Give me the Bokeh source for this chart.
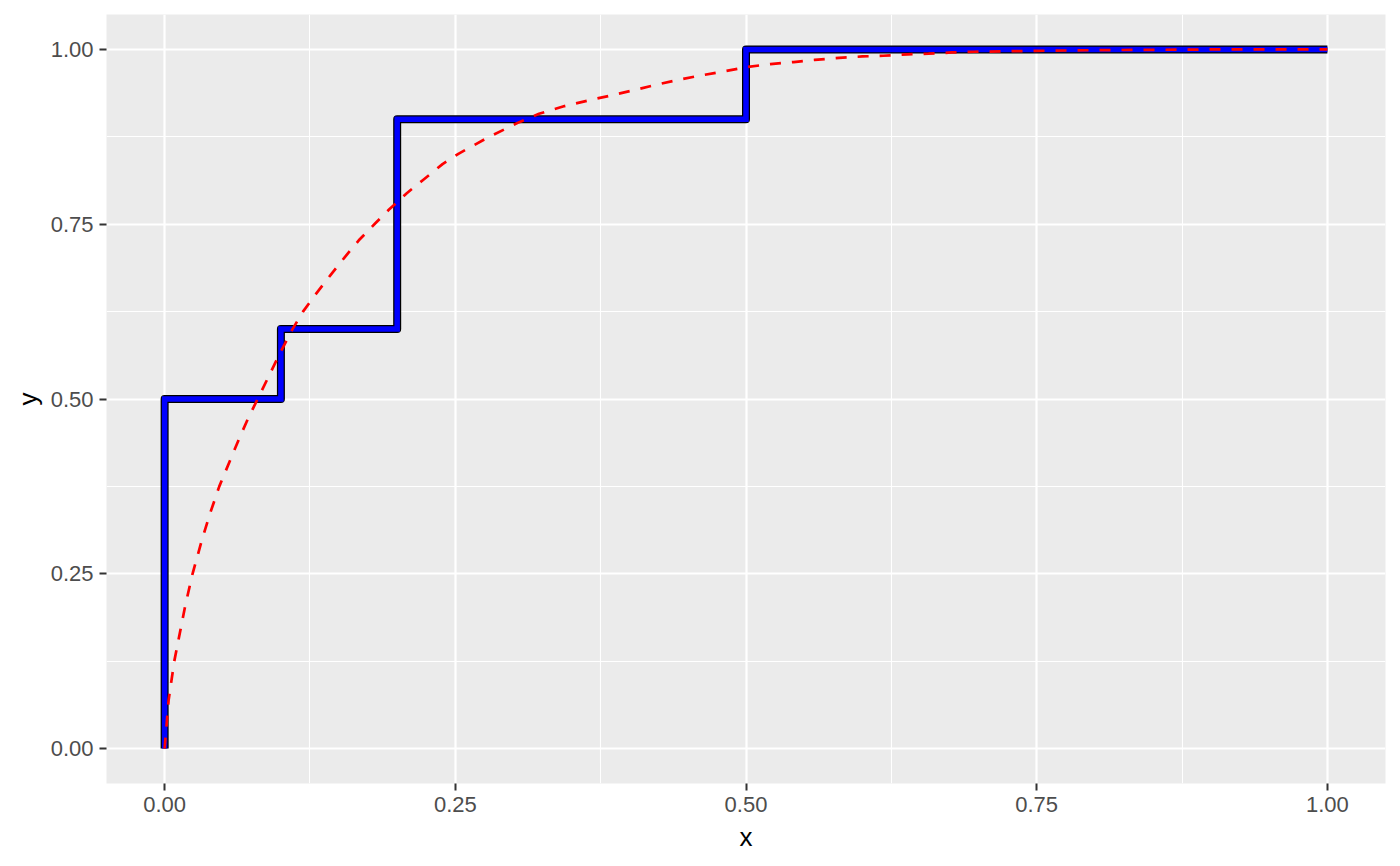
"""
step function (empirical cdf) against a smooth dashed curve, ggplot look
"""
from bokeh.plotting import figure
from bokeh.models import FixedTicker, Range1d, NumeralTickFormatter
from bokeh.embed import file_html
from bokeh.resources import INLINE

# empirical step function
step_x = [0.0, 0.0, 0.1, 0.2, 0.5, 1.0]
step_y = [0.0, 0.5, 0.6, 0.9, 1.0, 1.0]

# red dashed curve
curve_x = [0.0, 0.0034, 0.0083, 0.0178, 0.024, 0.032, 0.039, 0.047, 0.056,
           0.064, 0.072, 0.080, 0.090, 0.099, 0.110, 0.119, 0.130, 0.143,
           0.155, 0.167, 0.181, 0.193, 0.208, 0.222, 0.239, 0.253, 0.279,
           0.305, 0.322, 0.344, 0.367, 0.386, 0.404, 0.424, 0.443, 0.462,
           0.482, 0.501, 0.521, 0.541, 0.559, 0.580, 0.600, 0.618, 0.639,
           0.657, 0.677, 0.696, 0.75, 0.8, 0.9, 1.0]
curve_y = [0.0, 0.069, 0.125, 0.205, 0.250, 0.298, 0.336, 0.375, 0.411,
           0.443, 0.473, 0.500, 0.534, 0.565, 0.600, 0.625, 0.650, 0.678,
           0.703, 0.727, 0.751, 0.771, 0.794, 0.813, 0.836, 0.851, 0.875,
           0.896, 0.908, 0.919, 0.928, 0.935, 0.942, 0.950, 0.957, 0.963,
           0.969, 0.975, 0.979, 0.982, 0.985, 0.988, 0.990, 0.991, 0.993,
           0.994, 0.9957, 0.9967, 0.998, 0.999, 1.0, 1.0]

ticks = [0.0, 0.25, 0.5, 0.75, 1.0]
minor = [0.125, 0.375, 0.625, 0.875]

p = figure(width=1400, height=866, output_backend="svg", toolbar_location=None,
           x_range=Range1d(-0.05, 1.05), y_range=Range1d(-0.05, 1.05),
           min_border_left=106, min_border_right=15, min_border_top=14,
           min_border_bottom=83)

# panel
p.background_fill_color = "#EBEBEB"
p.outline_line_color = None

for ax in (p.xaxis, p.yaxis):
    ax.ticker = FixedTicker(ticks=ticks, minor_ticks=minor)
    ax.formatter = NumeralTickFormatter(format="0.00")
    ax.axis_line_color = None
    ax.major_tick_in = 0
    ax.major_tick_out = 7
    ax.major_tick_line_color = "#333333"
    ax.major_tick_line_width = 2
    ax.minor_tick_line_color = None
    ax.major_label_text_color = "#4D4D4D"
    ax.major_label_text_font = "Liberation Sans"
    ax.major_label_text_font_size = "22px"
    ax.major_label_standoff = 6
    ax.axis_label_text_font = "Liberation Sans"
    ax.axis_label_text_font_size = "26px"
    ax.axis_label_text_font_style = "normal"
    ax.axis_label_text_color = "black"
    ax.axis_label_standoff = 7

p.xaxis.axis_label = "x"
p.yaxis.axis_label = "y"
p.yaxis.axis_label_standoff = 5

for g in (p.xgrid, p.ygrid):
    g.grid_line_color = "white"
    g.grid_line_width = 2.2
    g.minor_grid_line_color = "white"
    g.minor_grid_line_width = 1.1

# step function: black outline then blue core
p.step(step_x, step_y, mode="after", line_color="black", line_width=8,
       line_join="round", line_cap="butt")
p.step(step_x, step_y, mode="after", line_color="blue", line_width=5.5,
       line_join="miter", line_cap="butt")

# dashed reference curve
p.line(curve_x, curve_y, line_color="red", line_width=2.7, line_dash="11 11")

open("out.html", "w").write(file_html(p, INLINE))
